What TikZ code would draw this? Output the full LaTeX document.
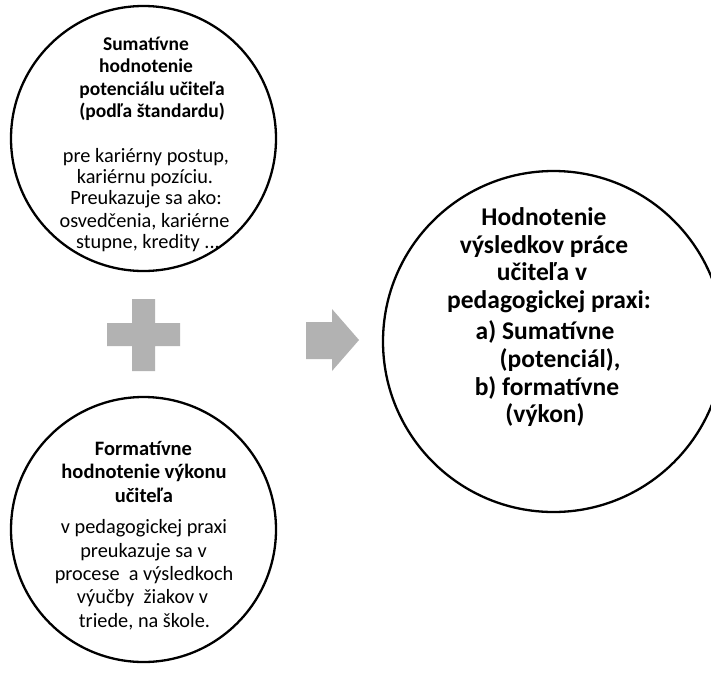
\documentclass[tikz,border=0pt]{standalone}
\usepackage{fontspec}
\setmainfont{Carlito}
\definecolor{shapegray}{HTML}{B2B2B2}
\tikzset{
  ring/.style={circle, draw=black, line width=2.3pt, inner sep=0pt},
  headA/.style={inner sep=0pt, anchor=base, font=\bfseries\fontsize{19.5}{23}\selectfont},
  headB/.style={inner sep=0pt, anchor=base, font=\bfseries\fontsize{20.5}{24}\selectfont},
  headC/.style={inner sep=0pt, anchor=base, font=\bfseries\fontsize{25.5}{30}\selectfont},
  bodytxt/.style={inner sep=0pt, anchor=base, font=\fontsize{20.3}{24}\selectfont},
  symb/.style={fill=shapegray, draw=none}
}
\begin{document}
\begin{tikzpicture}[x={(1pt,0)}, y={(0,-1pt)}]
\useasboundingbox (0,0) rectangle (711,672);
\clip (0,0) rectangle (711,672);
\fill[white] (0,0) rectangle (711,672);

% circles
\node[ring, minimum size=265pt] (top) at (143.5,138.5) {};
\node[ring, minimum size=265pt] (bot) at (143.5,529.5) {};
\node[ring, minimum size=341pt] (res) at (553.5,341.5) {};

% top circle text
\node[headA] (t1) at (146,50) {Sumatívne};
\node[headA] (t2) at (146,72.5) {hodnotenie};
\node[headA] (t3) at (152,95) {potenciálu učiteľa};
\node[headA] (t4) at (152,117.5) {(podľa štandardu)};
\node[bodytxt] (t5) at (146,162) {pre kariérny postup,};
\node[bodytxt] (t6) at (145,183) {kariérnu pozíciu.};
\node[bodytxt] (t7) at (146,204) {Preukazuje sa ako:};
\node[bodytxt] (t8) at (144.5,227) {osvedčenia, kariérne};
\node[bodytxt] (t9) at (148,248) {stupne, kredity ...};

% bottom circle text
\node[headB] (b1) at (143.5,455) {Formatívne};
\node[headB] (b2) at (144,478) {hodnotenie výkonu};
\node[headB] (b3) at (144,502) {učiteľa};
\node[bodytxt] (b4) at (144,533) {v pedagogickej praxi};
\node[bodytxt] (b5) at (143.5,557) {preukazuje sa v};
\node[bodytxt] (b6) at (144,580) {procese\ \ a výsledkoch};
\node[bodytxt] (b7) at (142.5,603) {výučby\ \ žiakov v};
\node[bodytxt] (b8) at (144.5,627) {triede, na škole.};

% right circle text
\node[headC] (r1) at (544,225) {Hodnotenie};
\node[headC] (r2) at (544,253) {výsledkov práce};
\node[headC] (r3) at (542,280) {učiteľa v};
\node[headC] (r4) at (549,308) {pedagogickej praxi:};
\node[headC] (r5) at (545,339) {a) Sumatívne};
\node[headC] (r6) at (560,367) {(potenciál),};
\node[headC] (r7) at (547,395) {b) formatívne};
\node[headC] (r8) at (545,422) {(výkon)};

% plus sign
\path[symb] (132,299) -- (155,299) -- (155,323) -- (180,323) -- (180,346)
  -- (155,346) -- (155,371) -- (132,371) -- (132,346) -- (107,346)
  -- (107,323) -- (132,323) -- cycle;

% block arrow
\path[symb] (306,322) -- (332,322) -- (332,309) -- (359,340) -- (332,371)
  -- (332,359) -- (306,359) -- cycle;
\end{tikzpicture}
\end{document}
